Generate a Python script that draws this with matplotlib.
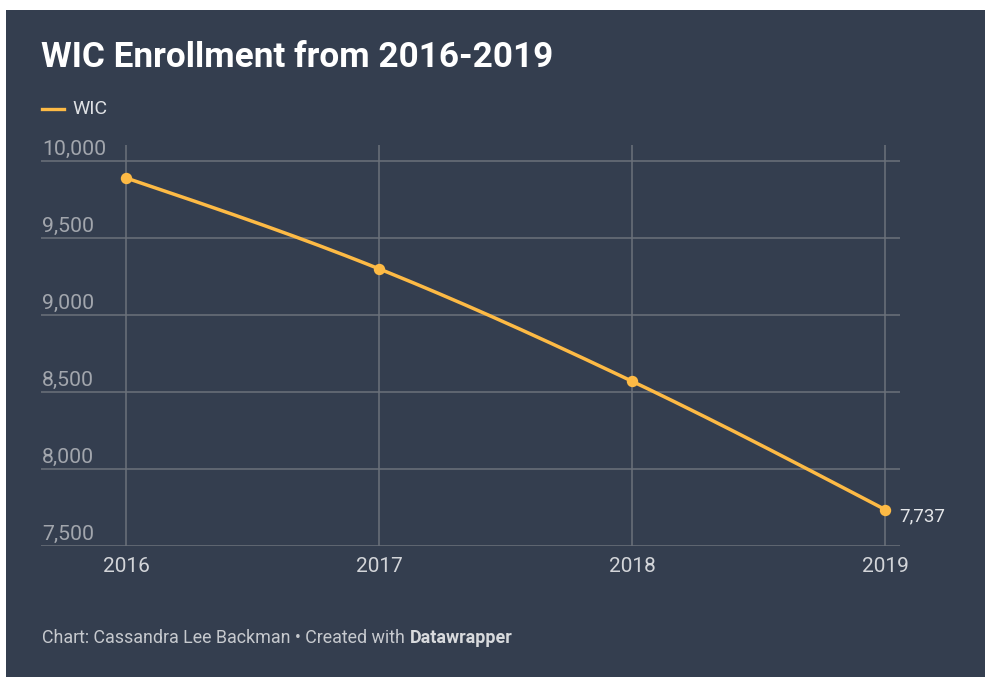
import numpy as np
import matplotlib
matplotlib.use("Agg")
import matplotlib.pyplot as plt
from matplotlib.patches import Rectangle
import matplotlib.transforms as mtransforms
from matplotlib.text import Annotation

# ---- data ----
years = [2016, 2017, 2018, 2019]
wic = [9890, 9300, 8570, 7737]
y_ticks = [7500, 8000, 8500, 9000, 9500, 10000]
y_tick_labels = ["7,500", "8,000", "8,500", "9,000", "9,500", "10,000"]
x_tick_labels = ["2016", "2017", "2018", "2019"]
last_label = "7,737"

BG = "#343e4f"
LINE = "#fdba45"
GRID = "#6c717b"
YLAB = "#a2a6ad"
XLAB = "#d3d5d9"

plt.rcParams['font.family'] = ['Roboto', 'DejaVu Sans']

W, H = 985, 677
fig = plt.figure(figsize=(W / 100, H / 100), dpi=100)
fig.patch.set_facecolor("white")
bg = Rectangle((6 / W, 0), 1 - 6 / W, 1 - 10 / H, transform=fig.transFigure,
               facecolor=BG, edgecolor="none", zorder=-10)
fig.add_artist(bg)

def fx(px):
    return px / W

def fy(py):
    return 1 - py / H

ax_l, ax_r, ax_t, ax_b = 41, 900, 145, 546
ax = fig.add_axes([fx(ax_l), fy(ax_b), fx(ax_r - ax_l), (ax_b - ax_t) / H])
ax.set_facecolor("none")
ax.set_zorder(1)
for s in ax.spines.values():
    s.set_visible(False)
ax.set_xticks([])
ax.set_yticks([])

x0 = 2016 - (126 - ax_l) / 253.0
x1 = 2019 + (ax_r - 885) / 253.0
ax.set_xlim(x0, x1)
ppu = 385.0 / 2500.0
ax.set_ylim(7500, 10000 + (161 - ax_t) / ppu)

# grid
for yv in y_ticks:
    ax.axhline(yv, color=GRID, lw=1.1, zorder=1)
for xv in years:
    ax.axvline(xv, color=GRID, lw=1.1, zorder=1)

# monotone cubic (d3 curveMonotoneX) rendering
def monotone_curve(xs, ys, n=60):
    xs = np.asarray(xs, float); ys = np.asarray(ys, float)
    m = len(xs)
    h = np.diff(xs); s = np.diff(ys) / h
    t = np.zeros(m)
    for i in range(1, m - 1):
        p = (s[i - 1] * h[i] + s[i] * h[i - 1]) / (h[i - 1] + h[i])
        t[i] = (np.sign(s[i - 1]) + np.sign(s[i])) * min(abs(s[i - 1]), abs(s[i]), 0.5 * abs(p))
    t[0] = (3 * s[0] - t[1]) / 2
    t[-1] = (3 * s[-1] - t[-2]) / 2
    X, Y = [], []
    u = np.linspace(0, 1, n)
    for i in range(m - 1):
        dx = h[i] / 3
        P0 = (xs[i], ys[i]); P1 = (xs[i] + dx, ys[i] + dx * t[i])
        P2 = (xs[i + 1] - dx, ys[i + 1] - dx * t[i + 1]); P3 = (xs[i + 1], ys[i + 1])
        bx = (1 - u) ** 3 * P0[0] + 3 * (1 - u) ** 2 * u * P1[0] + 3 * (1 - u) * u ** 2 * P2[0] + u ** 3 * P3[0]
        by = (1 - u) ** 3 * P0[1] + 3 * (1 - u) ** 2 * u * P1[1] + 3 * (1 - u) * u ** 2 * P2[1] + u ** 3 * P3[1]
        X.extend(bx); Y.extend(by)
    return np.array(X), np.array(Y)

cx, cy = monotone_curve(years, wic)
ax.plot(cx, cy, color=LINE, lw=2.5, zorder=3, solid_capstyle="round")
ax.plot(years, wic, "o", color=LINE, ms=8.2, zorder=4, markeredgewidth=0)

# y tick labels above gridlines
ytr = mtransforms.blended_transform_factory(fig.transFigure, ax.transData)
ytr = ytr + mtransforms.ScaledTranslation(0, 6 / 100, fig.dpi_scale_trans)
for yv, lab in zip(y_ticks, y_tick_labels):
    fig.text(fx(42), yv, lab, transform=ytr, ha="left", va="baseline",
             color=YLAB, fontsize=15.3)

# x tick labels
xtr = mtransforms.blended_transform_factory(ax.transData, fig.transFigure)
for xv, lab in zip(years, x_tick_labels):
    fig.text(xv, fy(567), lab, transform=xtr, ha="center", va="center",
             color=XLAB, fontsize=15)

# last value label
ax.annotate(last_label, xy=(years[-1], wic[-1]), xytext=(14, -7), textcoords="offset pixels",
            ha="left", va="center", color="#e4e6e9", fontsize=13.5)

# title
fig.text(fx(41), fy(67), "WIC Enrollment from 2016-2019", ha="left", va="baseline",
         color="white", fontsize=25.3, fontweight="bold")

# legend
fig.add_artist(plt.Line2D([fx(42), fx(64)], [fy(109), fy(109)], transform=fig.transFigure,
                          color=LINE, lw=2.4))
fig.text(fx(72), fy(109), "WIC", ha="left", va="center", color="#dfe1e4", fontsize=14)

# footer
t1 = fig.text(fx(42), fy(643), "Chart: Cassandra Lee Backman \u2022 Created with", ha="left",
              va="baseline", color="#c6c9ce", fontsize=12.9)
fig.add_artist(Annotation("Datawrapper", xy=(1, 0), xycoords=t1,
                          xytext=(3.5, 0), textcoords="offset points", ha="left", va="bottom",
                          color="#d8dadd", fontsize=12.9, fontweight="bold"))

fig.savefig("out.png", dpi=100, facecolor=fig.get_facecolor())
